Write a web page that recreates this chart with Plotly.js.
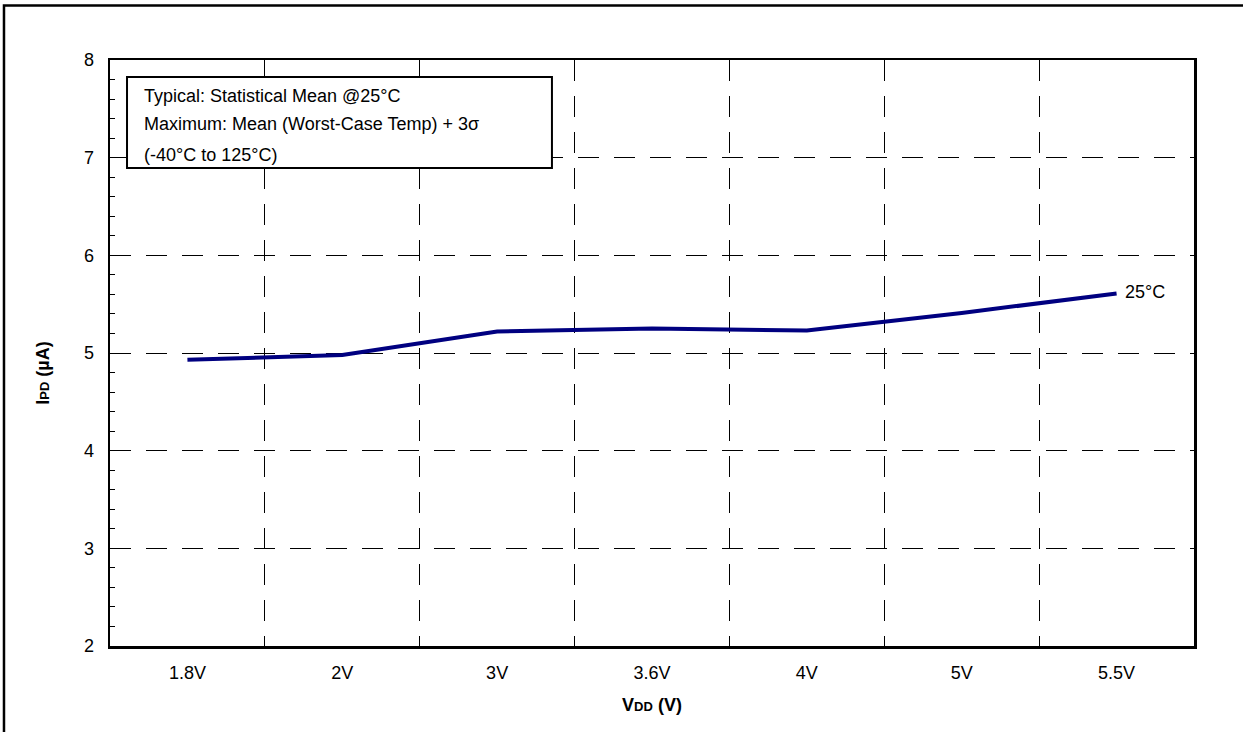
<!DOCTYPE html>
<html>
<head>
<meta charset="utf-8">
<script src="https://cdn.plot.ly/plotly-3.0.1.min.js"></script>
<style>html,body{margin:0;padding:0;background:#fff;}#chart{width:1243px;height:732px;}</style>
</head>
<body>
<div id="chart"></div>
<script>
// Data
var vdd = ["1.8V", "2V", "3V", "3.6V", "4V", "5V", "5.5V"];
var ipd25 = [4.93, 4.98, 5.22, 5.25, 5.23, 5.41, 5.61];
var seriesName = "25°C";
var noteLines = [
  "Typical: Statistical Mean @25°C",
  "Maximum: Mean (Worst-Case Temp) + 3σ",
  "(-40°C to 125°C)"
];
var yTicks = [2, 3, 4, 5, 6, 7, 8];

var FONT = "Liberation Sans, Arial, sans-serif";

var trace = {
  x: vdd, y: ipd25, type: "scatter", mode: "lines",
  name: seriesName,
  line: {color: "#000080", width: 4},
  hoverinfo: "x+y"
};

var noteY = [0.938, 0.890, 0.838];
var annotations = noteLines.map(function(t, i){
  return {xref: "paper", yref: "paper", x: 0.0295, y: noteY[i], xanchor: "left", yanchor: "middle",
    text: t, showarrow: false, font: {family: FONT, size: 18, color: "#000"}};
});
annotations.push({
  xref: "x", yref: "y", x: vdd[vdd.length-1], y: ipd25[ipd25.length-1],
  xanchor: "left", yanchor: "middle", xshift: 6, yshift: 1, text: seriesName, showarrow: false,
  font: {family: FONT, size: 18, color: "#000"}
});

var layout = {
  width: 1243, height: 732,
  margin: {l: 110, r: 49, t: 60, b: 86, pad: 0},
  paper_bgcolor: "#fff", plot_bgcolor: "#fff",
  showlegend: false,
  font: {family: FONT, size: 18, color: "#000"},
  xaxis: {
    type: "category", categoryorder: "array", categoryarray: vdd,
    range: [-0.5, vdd.length - 0.5],
    tickson: "boundaries", ticks: "", showgrid: true,
    gridcolor: "#000", gridwidth: 1, griddash: "21px,15px",
    showline: true, linecolor: "#000", linewidth: 2.5, mirror: true,
    zeroline: false, ticklabelstandoff: 9,
    tickfont: {family: FONT, size: 18, color: "#000"},
    title: {text: "<b>V<span style='font-size:13px'>DD</span> (V)</b>", standoff: 17,
      font: {family: FONT, size: 18, color: "#000"}}
  },
  xaxis2: {
    overlaying: "x", anchor: "y", side: "bottom",
    range: [-0.5, vdd.length - 0.5], tick0: 0, dtick: 1,
    ticks: "inside", ticklen: 5, tickwidth: 1, tickcolor: "#000",
    showticklabels: false, showgrid: false, zeroline: false, showline: false
  },
  yaxis: {
    range: [2, 8], tickvals: yTicks,
    ticks: "inside", ticklen: 9, tickwidth: 1, tickcolor: "#000",
    minor: {dtick: 0.2, ticks: "inside", ticklen: 5, tickwidth: 1, tickcolor: "#000", showgrid: false},
    showgrid: true, gridcolor: "#000", gridwidth: 1, griddash: "21px,15px",
    showline: true, linecolor: "#000", linewidth: 2.5, mirror: true,
    zeroline: false, ticklabelstandoff: 10,
    tickfont: {family: FONT, size: 18, color: "#000"},
    title: {text: "<b>I<span style='font-size:13px'>PD</span> (µA)&nbsp;&nbsp;&nbsp;&nbsp;&nbsp;&nbsp;&nbsp;&nbsp;</b>", standoff: 30,
      font: {family: FONT, size: 18, color: "#000"}}
  },
  shapes: [
    {type: "rect", xref: "paper", yref: "paper", x0: 0.0157, x1: 0.4077, y0: 0.8157, y1: 0.971,
     layer: "above", fillcolor: "#fff", line: {color: "#000", width: 2}},
    {type: "rect", xref: "paper", yref: "paper", x0: -0.0978, x1: 1.2, y0: -0.5, y1: 1.093,
     layer: "below", fillcolor: "rgba(0,0,0,0)", line: {color: "#000", width: 2.5}}
  ],
  annotations: annotations
};

Plotly.newPlot("chart", [trace], layout, {staticPlot: true, displayModeBar: false});
</script>
</body>
</html>
